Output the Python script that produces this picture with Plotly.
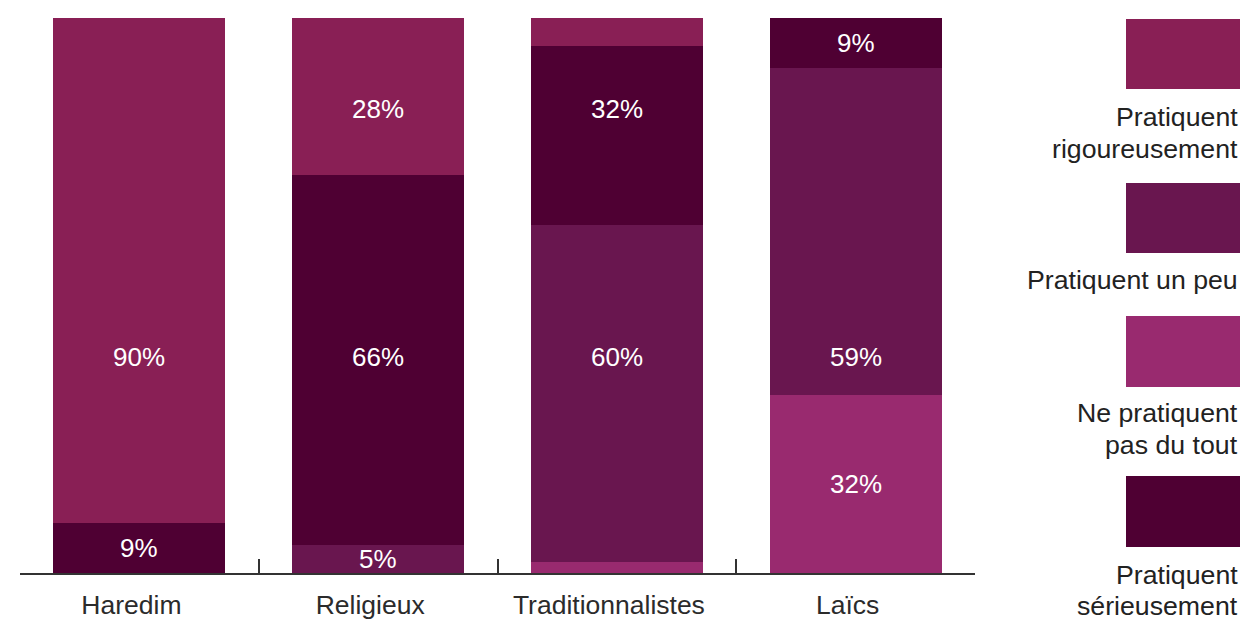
import plotly.graph_objects as go

# ---------------- data ----------------
categories = ["Haredim", "Religieux", "Traditionnalistes", "Laïcs"]

ne_pratiquent = [0, 0, 2, 32]        # Ne pratiquent pas du tout
un_peu = [0, 5, 60, 59]              # Pratiquent un peu
serieusement = [9, 66, 32, 9]        # Pratiquent sérieusement
rigoureusement = [90, 28, 5, 0]      # Pratiquent rigoureusement

ne_pratiquent_labels = ["", "", "", "32%"]
un_peu_labels = ["", "5%", "60%", "59%"]
serieusement_labels = ["9%", "66%", "32%", "9%"]
rigoureusement_labels = ["90%", "28%", "", ""]

series_names = ["Ne pratiquent pas du tout", "Pratiquent un peu",
                "Pratiquent sérieusement", "Pratiquent rigoureusement"]

# ---------------- style ----------------
colors = {
    "Ne pratiquent pas du tout": "#992A6F",
    "Pratiquent un peu": "#69164F",
    "Pratiquent sérieusement": "#4F0033",
    "Pratiquent rigoureusement": "#891F55",
}
FONT = "Liberation Sans, Arial, Helvetica, sans-serif"
W, H = 1244, 619
PX0, PX1, PY0, PY1 = 20, 975, 18, 573   # plot area in pixels


def px_x(px):
    return (px - PX0) / (PX1 - PX0)


def px_y(py):
    return (PY1 - py) / (PY1 - PY0)


series_values = [ne_pratiquent, un_peu, serieusement, rigoureusement]
series_labels = [ne_pratiquent_labels, un_peu_labels, serieusement_labels, rigoureusement_labels]

fig = go.Figure()
for name, vals in zip(series_names, series_values):
    fig.add_trace(go.Bar(
        x=categories, y=vals, name=name,
        marker=dict(color=colors[name], line=dict(width=0)),
        showlegend=False, hoverinfo="skip",
    ))

# label positions: centre of the segment, with some labels aligned on common rows
row_overrides = {
    ("Pratiquent rigoureusement", "Haredim"): 38.9,
    ("Pratiquent sérieusement", "Religieux"): 38.9,
    ("Pratiquent un peu", "Traditionnalistes"): 38.9,
    ("Pratiquent un peu", "Laïcs"): 38.9,
    ("Pratiquent rigoureusement", "Religieux"): 83.6,
    ("Pratiquent sérieusement", "Traditionnalistes"): 83.6,
}

annotations = []
for ci, cat in enumerate(categories):
    total = sum(v[ci] for v in series_values)
    base = 0.0
    for name, vals, labs in zip(series_names, series_values, series_labels):
        v = vals[ci] / total * 100
        if labs[ci]:
            yc = row_overrides.get((name, cat), base + v / 2)
            annotations.append(dict(
                x=cat, y=yc, xref="x", yref="y", text=labs[ci], showarrow=False,
                font=dict(family=FONT, size=26, color="#FFFFFF"),
                xanchor="center", yanchor="middle",
            ))
        base += v

# custom legend (colour box with text below, right aligned)
legend_items = [
    ("Pratiquent rigoureusement", (19, 89), ["Pratiquent", "rigoureusement"], [117, 149]),
    ("Pratiquent un peu", (183, 253), ["Pratiquent un peu"], [280]),
    ("Ne pratiquent pas du tout", (316, 387), ["Ne pratiquent", "pas du tout"], [413, 445]),
    ("Pratiquent sérieusement", (476, 547), ["Pratiquent", "sérieusement"], [575, 606]),
]
shapes = []
for name, (y0, y1), lines, ys in legend_items:
    shapes.append(dict(
        type="rect", xref="paper", yref="paper",
        x0=px_x(1126), x1=px_x(1240), y0=px_y(y1), y1=px_y(y0),
        fillcolor=colors[name], line=dict(width=0),
    ))
    for txt, yy in zip(lines, ys):
        annotations.append(dict(
            x=px_x(1240), y=px_y(yy), xref="paper", yref="paper",
            text=txt, showarrow=False, xanchor="right", yanchor="middle",
            font=dict(family=FONT, size=26.7, color="#222222"),
        ))

fig.update_layout(
    barmode="stack", barnorm="percent", bargap=0.28,
    width=W, height=H,
    margin=dict(l=PX0, r=W - PX1, t=PY0, b=H - PY1, autoexpand=False),
    paper_bgcolor="white", plot_bgcolor="white",
    font=dict(family=FONT, size=26, color="#333333"),
    shapes=shapes, annotations=annotations,
)
fig.update_xaxes(
    type="category", range=[-0.5, 3.5], tickson="boundaries",
    ticks="inside", ticklen=14, tickwidth=2, tickcolor="#333333",
    showline=True, linecolor="#333333", linewidth=2,
    showgrid=False, zeroline=False, automargin=False,
    tickfont=dict(family=FONT, size=26.5, color="#2B2B2B"),
    ticklabelstandoff=7, ticklabelshift=-8,
)
fig.update_yaxes(range=[0, 100], visible=False, showgrid=False, zeroline=False)

fig.write_html(
    "out.html",
    config={"displayModeBar": False},
    post_script="document.body.style.margin='0';document.body.style.padding='0';"
                "document.documentElement.style.overflow='hidden';",
)
